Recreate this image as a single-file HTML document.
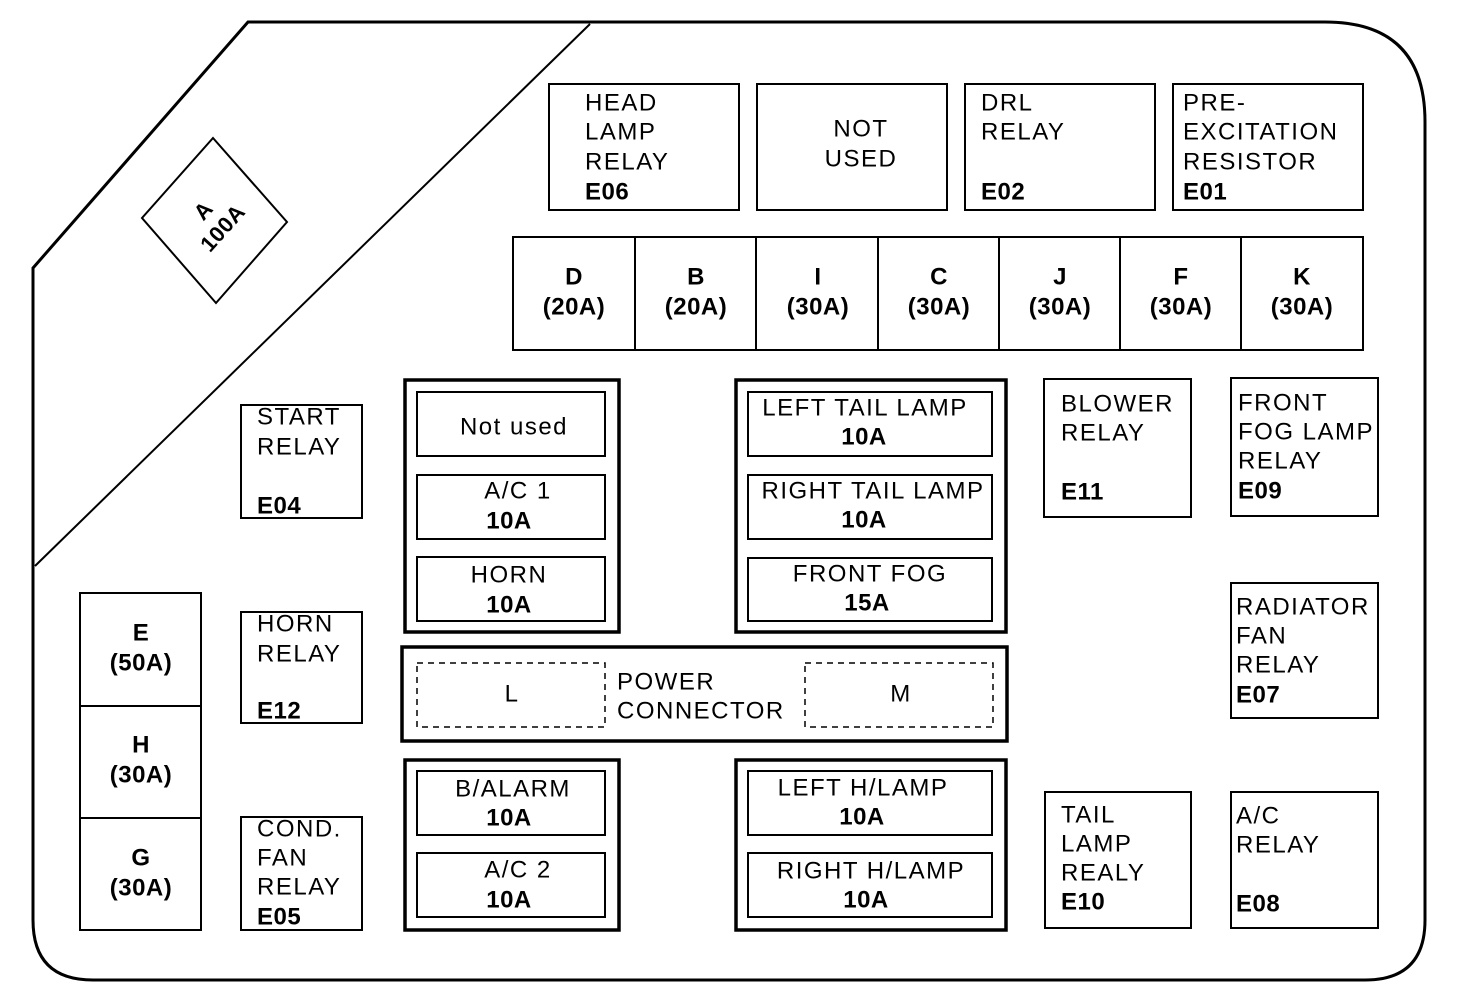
<!DOCTYPE html>
<html><head><style>
html,body{margin:0;padding:0;background:#fff;}
svg{display:block;}
text{font-family:"Liberation Sans",sans-serif;font-size:24px;fill:#000;dominant-baseline:middle;letter-spacing:1.5px;}
.b{font-weight:bold;letter-spacing:0.5px;}
.c{text-anchor:middle;}
</style></head><body>
<svg width="1472" height="1002" viewBox="0 0 1472 1002" xmlns="http://www.w3.org/2000/svg">
<g fill="none" stroke="#000">
<path d="M33,268 L248,22 L1325,22 Q1425,22 1425,122 L1425,920 Q1425,980 1365,980 L93,980 Q33,980 33,920 Z" stroke-width="3"/>
<line x1="35" y1="566" x2="590" y2="24" stroke-width="2"/>
<polygon points="213,138 287,222 216,303 142,218" stroke-width="2"/>
<g stroke-width="2">
<rect x="549" y="84" width="190" height="126"/>
<rect x="757" y="84" width="190" height="126"/>
<rect x="965" y="84" width="190" height="126"/>
<rect x="1173" y="84" width="190" height="126"/>
<rect x="513" y="237" width="850" height="113"/>
<line x1="635" y1="237" x2="635" y2="350"/><line x1="756" y1="237" x2="756" y2="350"/>
<line x1="878" y1="237" x2="878" y2="350"/><line x1="999" y1="237" x2="999" y2="350"/>
<line x1="1120" y1="237" x2="1120" y2="350"/><line x1="1241" y1="237" x2="1241" y2="350"/>
<rect x="241" y="405" width="121" height="113"/>
<rect x="241" y="612" width="121" height="111"/>
<rect x="241" y="817" width="121" height="113"/>
<rect x="80" y="593" width="121" height="337"/>
<line x1="80" y1="706" x2="201" y2="706"/><line x1="80" y1="818" x2="201" y2="818"/>
<rect x="417" y="392" width="188" height="64"/><rect x="417" y="475" width="188" height="64"/><rect x="417" y="557" width="188" height="64"/>
<rect x="748" y="392" width="244" height="64"/><rect x="748" y="475" width="244" height="64"/><rect x="748" y="558" width="244" height="63"/>
<rect x="417" y="771" width="188" height="64"/><rect x="417" y="853" width="188" height="64"/>
<rect x="748" y="771" width="244" height="64"/><rect x="748" y="853" width="244" height="64"/>
<rect x="1044" y="379" width="147" height="138"/>
<rect x="1231" y="378" width="147" height="138"/>
<rect x="1231" y="583" width="147" height="135"/>
<rect x="1045" y="792" width="146" height="136"/>
<rect x="1231" y="792" width="147" height="136"/>
</g>
<g stroke-width="3.5">
<rect x="405" y="380" width="214" height="252"/>
<rect x="736" y="380" width="270" height="252"/>
<rect x="402" y="647" width="605" height="94"/>
<rect x="405" y="760" width="214" height="170"/>
<rect x="736" y="760" width="270" height="170"/>
</g>
<g stroke-width="1.5" stroke-dasharray="6,5">
<rect x="417" y="663" width="188" height="64"/>
<rect x="805" y="663" width="188" height="64"/>
</g>
</g>
<g transform="translate(215,221) rotate(-48)">
<text class="b c" x="0" y="-14" style="font-size:22px">A</text>
<text class="b c" x="0" y="12" style="font-size:22px">100A</text>
</g>
<text x="585" y="104">HEAD</text><text x="585" y="133">LAMP</text><text x="585" y="163">RELAY</text><text class="b" x="585" y="193">E06</text>
<text class="c" x="861" y="130">NOT</text><text class="c" x="861" y="160">USED</text>
<text x="981" y="104">DRL</text><text x="981" y="133">RELAY</text><text class="b" x="981" y="193">E02</text>
<text x="1183" y="104">PRE-</text><text x="1183" y="133">EXCITATION</text><text x="1183" y="163">RESISTOR</text><text class="b" x="1183" y="193">E01</text>
<text class="b c" x="574" y="278">D</text><text class="b c" x="574" y="308">(20A)</text>
<text class="b c" x="696" y="278">B</text><text class="b c" x="696" y="308">(20A)</text>
<text class="b c" x="818" y="278">I</text><text class="b c" x="818" y="308">(30A)</text>
<text class="b c" x="939" y="278">C</text><text class="b c" x="939" y="308">(30A)</text>
<text class="b c" x="1060" y="278">J</text><text class="b c" x="1060" y="308">(30A)</text>
<text class="b c" x="1181" y="278">F</text><text class="b c" x="1181" y="308">(30A)</text>
<text class="b c" x="1302" y="278">K</text><text class="b c" x="1302" y="308">(30A)</text>
<text x="257" y="418">START</text><text x="257" y="448">RELAY</text><text class="b" x="257" y="507">E04</text>
<text x="257" y="625">HORN</text><text x="257" y="655">RELAY</text><text class="b" x="257" y="712">E12</text>
<text x="257" y="830">COND.</text><text x="257" y="859">FAN</text><text x="257" y="888">RELAY</text><text class="b" x="257" y="918">E05</text>
<text class="b c" x="141" y="634">E</text><text class="b c" x="141" y="664">(50A)</text>
<text class="b c" x="141" y="746">H</text><text class="b c" x="141" y="776">(30A)</text>
<text class="b c" x="141" y="859">G</text><text class="b c" x="141" y="889">(30A)</text>
<text class="c" x="514" y="428">Not used</text>
<text class="c" x="518" y="492">A/C 1</text><text class="b c" x="509" y="522">10A</text>
<text class="c" x="509" y="576">HORN</text><text class="b c" x="509" y="606">10A</text>
<text class="c" x="865" y="409">LEFT TAIL LAMP</text><text class="b c" x="864" y="438">10A</text>
<text class="c" x="873" y="492">RIGHT TAIL LAMP</text><text class="b c" x="864" y="521">10A</text>
<text class="c" x="870" y="575">FRONT FOG</text><text class="b c" x="867" y="604">15A</text>
<text class="c" x="512" y="695">L</text>
<text x="617" y="683">POWER</text><text x="617" y="712">CONNECTOR</text>
<text class="c" x="901" y="695">M</text>
<text class="c" x="513" y="790">B/ALARM</text><text class="b c" x="509" y="819">10A</text>
<text class="c" x="518" y="871">A/C 2</text><text class="b c" x="509" y="901">10A</text>
<text class="c" x="863" y="789">LEFT H/LAMP</text><text class="b c" x="862" y="818">10A</text>
<text class="c" x="871" y="872">RIGHT H/LAMP</text><text class="b c" x="866" y="901">10A</text>
<text x="1061" y="405">BLOWER</text><text x="1061" y="434">RELAY</text><text class="b" x="1061" y="493">E11</text>
<text x="1238" y="404">FRONT</text><text x="1238" y="433">FOG LAMP</text><text x="1238" y="462">RELAY</text><text class="b" x="1238" y="492">E09</text>
<text x="1236" y="608">RADIATOR</text><text x="1236" y="637">FAN</text><text x="1236" y="666">RELAY</text><text class="b" x="1236" y="696">E07</text>
<text x="1061" y="816">TAIL</text><text x="1061" y="845">LAMP</text><text x="1061" y="874">REALY</text><text class="b" x="1061" y="903">E10</text>
<text x="1236" y="817">A/C</text><text x="1236" y="846">RELAY</text><text class="b" x="1236" y="905">E08</text>
</svg>
</body></html>
